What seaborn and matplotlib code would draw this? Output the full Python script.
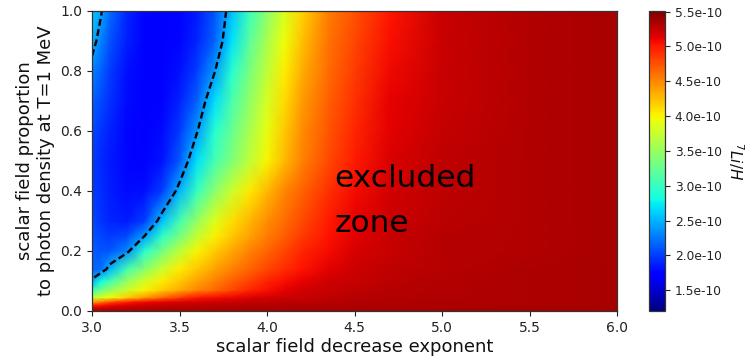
import numpy as np
import matplotlib
matplotlib.use("Agg")
import matplotlib.pyplot as plt
import seaborn as sns
from matplotlib.colors import Normalize
from matplotlib.ticker import FormatStrFormatter

# ---- data (7Li/H in units of 1e-10) ----
exponent = [3.0, 3.05, 3.1, 3.2, 3.3, 3.4, 3.5, 3.6, 3.7, 3.8, 3.9, 4.0,
            4.1, 4.2, 4.35, 4.5, 4.7, 5.0, 5.5, 6.0]
proportion = [0.0, 0.01, 0.02, 0.03, 0.045, 0.07, 0.1, 0.14, 0.2, 0.25,
              0.3, 0.4, 0.5, 0.6, 0.7, 0.8, 0.9, 1.0]

li_y000 = [5.32, 5.32, 5.33, 5.33, 5.34, 5.34, 5.34, 5.35, 5.35, 5.35, 5.35, 5.35, 5.36, 5.36, 5.36, 5.36, 5.36, 5.37, 5.37, 5.37]
li_y001 = [5.22, 5.24, 5.26, 5.28, 5.30, 5.31, 5.31, 5.32, 5.32, 5.33, 5.33, 5.33, 5.34, 5.34, 5.34, 5.35, 5.35, 5.35, 5.36, 5.36]
li_y002 = [4.95, 5.02, 5.08, 5.15, 5.20, 5.23, 5.25, 5.27, 5.28, 5.29, 5.30, 5.30, 5.31, 5.31, 5.32, 5.32, 5.33, 5.34, 5.34, 5.35]
li_y003 = [4.40, 4.60, 4.80, 5.00, 5.08, 5.13, 5.17, 5.20, 5.22, 5.24, 5.26, 5.27, 5.28, 5.29, 5.30, 5.31, 5.32, 5.33, 5.34, 5.35]
li_y0045 = [3.70, 3.82, 3.95, 4.19, 4.43, 4.64, 4.84, 5.01, 5.06, 5.10, 5.15, 5.20, 5.22, 5.24, 5.27, 5.30, 5.31, 5.32, 5.34, 5.35]
li_y007 = [3.00, 3.29, 3.47, 3.77, 4.01, 4.18, 4.34, 4.50, 4.65, 4.80, 4.95, 5.05, 5.13, 5.20, 5.23, 5.26, 5.30, 5.31, 5.33, 5.35]
li_y010 = [2.45, 2.80, 3.05, 3.48, 3.80, 4.04, 4.20, 4.37, 4.53, 4.67, 4.81, 4.96, 5.05, 5.12, 5.21, 5.24, 5.28, 5.31, 5.33, 5.35]
li_y014 = [2.15, 2.20, 2.50, 3.06, 3.42, 3.77, 4.03, 4.20, 4.37, 4.53, 4.66, 4.79, 4.92, 5.03, 5.13, 5.21, 5.26, 5.30, 5.33, 5.35]
li_y020 = [2.15, 2.10, 2.10, 2.32, 2.92, 3.31, 3.69, 4.01, 4.18, 4.35, 4.52, 4.66, 4.80, 4.94, 5.07, 5.18, 5.24, 5.30, 5.32, 5.35]
li_y025 = [2.10, 2.03, 1.98, 2.05, 2.40, 2.95, 3.31, 3.71, 4.02, 4.20, 4.38, 4.54, 4.69, 4.84, 5.03, 5.13, 5.23, 5.30, 5.32, 5.35]
li_y030 = [2.05, 1.97, 1.90, 1.85, 2.00, 2.55, 3.06, 3.48, 3.86, 4.10, 4.29, 4.48, 4.63, 4.78, 5.00, 5.11, 5.22, 5.29, 5.32, 5.35]
li_y040 = [2.00, 1.93, 1.87, 1.78, 1.80, 2.00, 2.51, 3.00, 3.43, 3.77, 4.06, 4.28, 4.51, 4.66, 4.89, 5.06, 5.20, 5.27, 5.32, 5.35]
li_y050 = [2.00, 1.92, 1.85, 1.76, 1.74, 1.82, 2.12, 2.69, 3.06, 3.38, 3.70, 4.01, 4.28, 4.53, 4.77, 5.00, 5.16, 5.26, 5.32, 5.35]
li_y060 = [2.05, 1.96, 1.88, 1.76, 1.72, 1.78, 1.98, 2.38, 2.89, 3.25, 3.59, 3.92, 4.20, 4.48, 4.72, 4.95, 5.13, 5.25, 5.32, 5.35]
li_y070 = [2.15, 2.05, 1.95, 1.78, 1.72, 1.75, 1.88, 2.15, 2.67, 3.09, 3.47, 3.81, 4.12, 4.40, 4.67, 4.89, 5.11, 5.24, 5.32, 5.35]
li_y080 = [2.30, 2.15, 2.00, 1.80, 1.72, 1.72, 1.80, 2.00, 2.38, 2.91, 3.33, 3.70, 4.04, 4.32, 4.63, 4.84, 5.08, 5.24, 5.32, 5.35]
li_y090 = [2.50, 2.30, 2.10, 1.86, 1.74, 1.72, 1.77, 1.90, 2.15, 2.69, 3.17, 3.58, 3.95, 4.24, 4.59, 4.80, 5.05, 5.23, 5.315, 5.35]
li_y100 = [2.60, 2.43, 2.20, 1.90, 1.75, 1.72, 1.75, 1.85, 2.10, 2.55, 3.01, 3.43, 3.83, 4.15, 4.54, 4.75, 5.02, 5.225, 5.31, 5.35]

contour_level = [2.4]
cbar_ticks = [1.5, 2.0, 2.5, 3.0, 3.5, 4.0, 4.5, 5.0, 5.5]
color_min, color_max = 1.2, 5.51
xticks = [3.0, 3.5, 4.0, 4.5, 5.0, 5.5, 6.0]
yticks = [0.0, 0.2, 0.4, 0.6, 0.8, 1.0]

rows = [li_y000, li_y001, li_y002, li_y003, li_y0045, li_y007, li_y010,
        li_y014, li_y020, li_y025, li_y030, li_y040, li_y050, li_y060,
        li_y070, li_y080, li_y090, li_y100]
scale = 1e-10
Z = np.array(rows) * scale

# ---- style ----
sns.set_style("ticks")
plt.rcParams['font.family'] = ['DejaVu Sans']
plt.rcParams.update({
    'axes.edgecolor': '#333333',
    'axes.linewidth': 0.9,
    'xtick.major.size': 3.5,
    'ytick.major.size': 3.5,
    'xtick.major.width': 0.8,
    'ytick.major.width': 0.8,
    'xtick.color': '#222222',
    'ytick.color': '#222222',
    'text.color': '#111111',
    'axes.labelcolor': '#111111',
})

cmap = matplotlib.colormaps['jet']
norm = Normalize(vmin=color_min * scale, vmax=color_max * scale)

fig = plt.figure(figsize=(7.48, 3.57), dpi=100)
ax = fig.add_axes([92 / 748, 46 / 357, 525 / 748, 300 / 357])
cax = fig.add_axes([649 / 748, 46 / 357, 16 / 748, 300 / 357])

mesh = ax.pcolormesh(exponent, proportion, Z, cmap=cmap, norm=norm,
                     shading='gouraud', rasterized=True)
cs = ax.contour(exponent, proportion, Z, levels=[v * scale for v in contour_level],
                colors='black', linewidths=1.7)
cs.set_linestyle((0, (2.9, 1.5)))

ax.set_xlim(3.0, 6.0)
ax.set_ylim(0.0, 1.0)
ax.set_xticks(xticks)
ax.set_yticks(yticks)
ax.tick_params(labelsize=10)
ax.set_xlabel("scalar field decrease exponent", fontsize=13, labelpad=2)
ax.set_ylabel("scalar field proportion\nto photon density at T=1 MeV",
              fontsize=13, labelpad=4)

ax.text(4.385, 0.263, "excluded\nzone", fontsize=22.5, linespacing=1.72,
        va='baseline', ha='left', color='black')

cb = fig.colorbar(mesh, cax=cax)
cb.set_ticks([t * scale for t in cbar_ticks])
cb.ax.yaxis.set_major_formatter(FormatStrFormatter('%.1e'))
cb.ax.tick_params(labelsize=8.8, length=3.5, width=0.8)
cb.outline.set_edgecolor('#333333')
cb.set_label("$^7Li/H$", rotation=270, fontsize=11, labelpad=17)

fig.savefig("out.png", dpi=100)
